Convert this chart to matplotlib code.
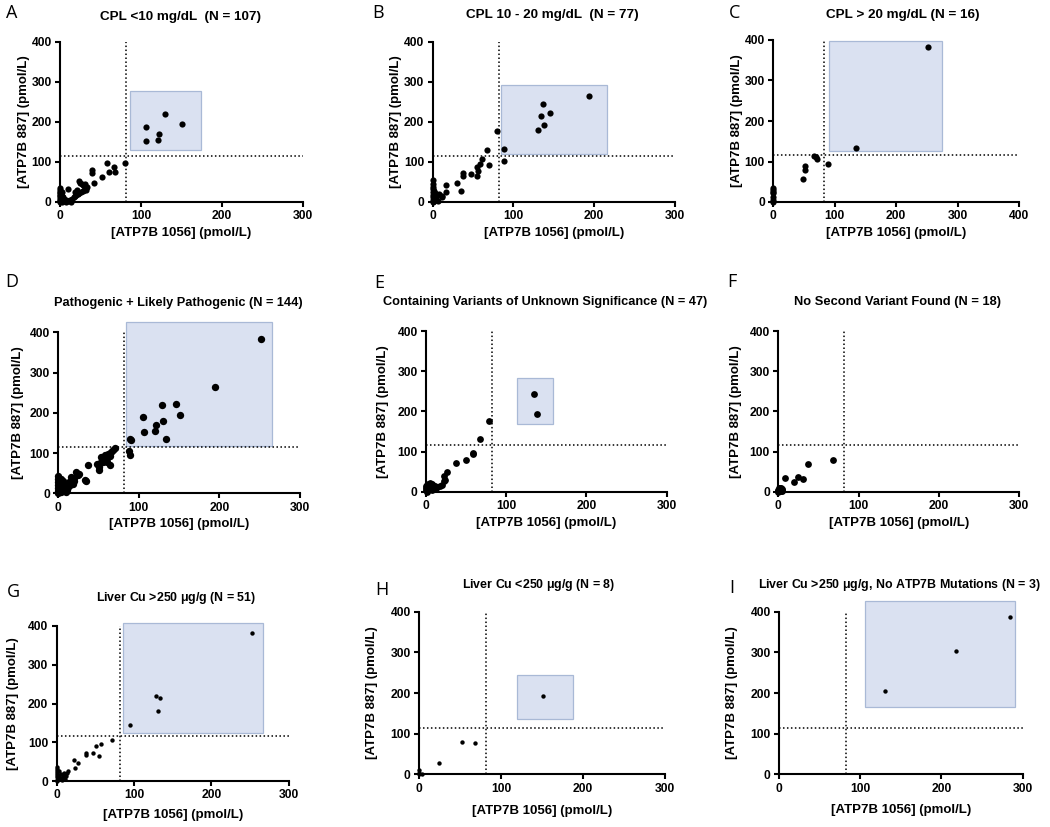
import matplotlib
matplotlib.use("Agg")
import matplotlib.pyplot as plt
from matplotlib.patches import Rectangle

plt.rcParams['font.family'] = ['Liberation Sans', 'DejaVu Sans']

W, H = 1050, 827
DPI = 100

# ---------------- data ----------------
A_x = [106, 106, 122, 121, 130, 151, 80, 58, 61, 67, 68, 39, 39, 42, 52,
       23, 25, 27, 29, 31, 32, 30, 28, 26, 24, 22, 20, 18, 17, 15, 21, 19, 31, 33, 32,
       0, 0, 0, 0, 0, 0, 0, 0, 0, 0, 2, 3, 4, 5, 6, 7, 8, 10, 10, 12, 13, 1, 2, 3]
A_y = [188, 151, 170, 155, 219, 194, 98, 97, 74, 88, 76, 79, 72, 48, 63,
       52, 48, 45, 42, 40, 35, 30, 28, 25, 22, 20, 18, 15, 12, 8, 30, 25, 45, 38, 30,
       35, 30, 26, 22, 18, 14, 10, 6, 3, 0, 1, 5, 12, 8, 3, 0, 4, 2, 32, 6, 1, 20, 15, 25]

B_x = [193, 136, 134, 145, 138, 130, 88, 88, 79, 67, 70, 61, 58, 55, 55, 56, 47, 38, 38,
       35, 30, 17, 16, 12, 11, 8, 5, 4, 3, 2, 6, 0, 0, 0, 0, 0, 0, 0, 0, 0, 3, 2]
B_y = [265, 244, 214, 221, 192, 180, 133, 102, 176, 131, 93, 107, 95, 88, 65, 78, 71, 66, 72,
       28, 48, 42, 25, 13, 16, 20, 18, 10, 5, 2, 3, 55, 45, 38, 32, 25, 18, 12, 6, 1, 22, 28]

C_x = [252, 134, 89, 52, 52, 49, 67, 69, 71, 0, 0, 0, 0, 0, 0, 0]
C_y = [382, 133, 94, 90, 78, 56, 113, 110, 106, 34, 30, 25, 21, 13, 5, 1]

D_x = [252, 194, 105, 106, 121, 120, 129, 130, 134, 146, 151, 89, 90, 88, 89,
       70, 68, 66, 64, 62, 60, 58, 56, 52, 50, 50, 48, 53, 55, 60, 64, 37, 35, 33, 26, 22,
       24, 19, 17, 15, 14, 12, 10, 8, 7, 5, 4, 3, 2, 1, 0, 0, 0, 0, 0, 0, 0, 9, 11, 13,
       16, 18, 20, 6, 3]
D_y = [383, 265, 189, 152, 170, 155, 219, 180, 134, 221, 194, 134, 132, 106, 95,
       113, 108, 103, 92, 98, 87, 95, 79, 75, 66, 58, 72, 91, 84, 77, 71, 70, 30, 34, 48, 54,
       45, 38, 32, 26, 20, 16, 12, 20, 8, 5, 14, 2, 25, 9, 42, 35, 28, 20, 13, 6, 0, 3, 8, 28,
       40, 22, 30, 30, 35]

E_x = [135, 138, 79, 67, 58, 59, 50, 38, 26, 22, 23, 20, 24, 18, 12, 10, 8, 6, 5, 4, 3, 2,
       1, 0, 0, 0, 7, 9, 11, 14, 3, 5, 1]
E_y = [244, 193, 177, 131, 96, 93, 79, 72, 48, 38, 27, 17, 30, 14, 10, 14, 18, 20, 16, 10,
       6, 3, 0, 13, 8, 3, 5, 9, 15, 12, 18, 22, 17]

F_x = [68, 37, 25, 31, 20, 8, 0, 1, 2, 3, 4, 5, 2, 0, 1, 3, 4, 0]
F_y = [79, 68, 37, 31, 23, 35, 0, 3, 6, 9, 5, 2, 10, 5, 8, 1, 7, 2]

G_x = [252, 128, 134, 131, 95, 71, 57, 51, 55, 47, 38, 38, 27, 22, 24, 15, 9, 10, 8, 6, 5,
       4, 3, 2, 1, 0, 0, 0, 0, 0, 0, 0, 12, 11, 7, 13, 3, 2]
G_y = [381, 219, 213, 180, 145, 105, 96, 90, 65, 71, 67, 72, 46, 53, 33, 27, 20, 15, 10, 8,
       18, 4, 12, 6, 2, 0, 35, 30, 25, 20, 15, 10, 12, 5, 2, 20, 25, 15]

H_x = [151, 52, 68, 24, 0, 0, 4, 0]
H_y = [193, 79, 77, 27, 10, 4, 1, 0]

I_x = [130, 218, 284]
I_y = [206, 303, 388]

# thresholds and highlighted boxes (x0, x1, y0, y1) in data units
X_CUT, Y_CUT = 82, 115
BOXES = {
    'A': (86, 174, 129, 277),
    'B': (84, 216, 119, 291),
    'C': (91, 274, 127, 397),
    'D': (84, 265, 117, 425),
    'E': (114, 158, 168, 284),
    'F': None,
    'G': (86, 267, 123, 408),
    'H': (120, 188, 136, 244),
    'I': (106, 291, 166, 426),
}

TITLES = {
    'A': 'CPL <10 mg/dL  (N = 107)',
    'B': 'CPL 10 - 20 mg/dL  (N = 77)',
    'C': 'CPL > 20 mg/dL (N = 16)',
    'D': 'Pathogenic + Likely Pathogenic (N = 144)',
    'E': 'Containing Variants of Unknown Significance (N = 47)',
    'F': 'No Second Variant Found (N = 18)',
    'G': 'Liver Cu >250 $\\mathregular{\\mu}$g/g (N = 51)',
    'H': 'Liver Cu <250 $\\mathregular{\\mu}$g/g (N = 8)',
    'I': 'Liver Cu >250 $\\mathregular{\\mu}$g/g, No ATP7B Mutations (N = 3)',
}

DATA = {'A': (A_x, A_y), 'B': (B_x, B_y), 'C': (C_x, C_y), 'D': (D_x, D_y),
        'E': (E_x, E_y), 'F': (F_x, F_y), 'G': (G_x, G_y), 'H': (H_x, H_y),
        'I': (I_x, I_y)}

XTICKS = {'C': [0, 100, 200, 300, 400]}
XMAX = {'C': 400}

# layout in pixels: (x_left, x_right, y_top, y_bottom)
LAYOUT = {
    'A': (60, 303, 41.7, 202),
    'B': (432.7, 675, 41.7, 202),
    'C': (773.3, 1019, 40, 202),
    'D': (58.3, 300, 332.3, 493.3),
    'E': (426, 666.7, 331, 491.7),
    'F': (778.3, 1019.3, 331, 491.7),
    'G': (56.7, 288.7, 626, 781),
    'H': (419, 664.7, 611.7, 774.3),
    'I': (779, 1022.7, 611.7, 774.3),
}
TITLE_POS = {'A': (181, 17), 'B': (552, 15), 'C': (903, 15), 'D': (178, 303),
             'E': (545, 302), 'F': (898, 302), 'G': (176, 598), 'H': (539, 585),
             'I': (899, 585)}
TITLE_SIZE = {'A': 9.7, 'B': 9.7, 'C': 9.7, 'D': 9.2, 'E': 9.2, 'F': 9.25,
              'G': 8.9, 'H': 8.9, 'I': 8.9}
LETTER_POS = {'A': (12, 13), 'B': (378, 13), 'C': (735, 13), 'D': (12, 282),
              'E': (379, 283), 'F': (732, 282), 'G': (13, 592), 'H': (382, 590),
              'I': (732, 588)}
YLABEL_X = {'A': 24, 'B': 396, 'C': 737, 'D': 18, 'E': 383, 'F': 736, 'G': 13,
            'H': 372, 'I': 732}
XLABEL_DY = {'A': 31, 'B': 31, 'C': 31, 'D': 31, 'E': 31, 'F': 31, 'G': 34,
             'H': 37, 'I': 36}
MSIZE = {'A': 20, 'B': 20, 'C': 20, 'D': 28, 'E': 24, 'F': 24, 'G': 10, 'H': 10, 'I': 10}

fig = plt.figure(figsize=(W / DPI, H / DPI), dpi=DPI)

for key in 'ABCDEFGHI':
    xl, xr, yt, yb = LAYOUT[key]
    ax = fig.add_axes([xl / W, 1 - yb / H, (xr - xl) / W, (yb - yt) / H])
    xmax = XMAX.get(key, 300)
    ax.set_xlim(0, xmax)
    ax.set_ylim(0, 400)
    ax.set_xticks(XTICKS.get(key, [0, 100, 200, 300]))
    ax.set_yticks([0, 100, 200, 300, 400])
    for s in ('top', 'right'):
        ax.spines[s].set_visible(False)
    for s in ('left', 'bottom'):
        ax.spines[s].set_linewidth(1.5)
    ax.tick_params(direction='out', length=3.5, width=1.5, pad=2.5, labelsize=8.7)
    for lab in ax.get_xticklabels() + ax.get_yticklabels():
        lab.set_fontweight('bold')
    box = BOXES[key]
    if box is not None:
        x0, x1, y0, y1 = box
        ax.add_patch(Rectangle((x0, y0), x1 - x0, y1 - y0, facecolor='#dae1f1',
                               edgecolor='#a9b9d6', linewidth=0.9, clip_on=False, zorder=1))
    ax.axvline(X_CUT, color='black', linestyle=(0, (1, 1.6)), linewidth=1.1, zorder=2)
    ax.axhline(Y_CUT, color='black', linestyle=(0, (1, 1.6)), linewidth=1.1, zorder=2)
    xs, ys = DATA[key]
    ax.scatter(xs, ys, s=MSIZE[key], color='black', linewidths=0, clip_on=False, zorder=4)
    ax.set_xlabel('[ATP7B 1056] (pmol/L)', fontsize=9.5, fontweight='bold')
    ax.set_ylabel('[ATP7B 887] (pmol/L)', fontsize=9.5, fontweight='bold')
    ax.xaxis.set_label_coords(0.5, -XLABEL_DY[key] / (yb - yt))
    ax.yaxis.set_label_coords((YLABEL_X[key] - xl) / (xr - xl), 0.5)
    ax.xaxis.label.set_verticalalignment('center')
    ax.yaxis.label.set_verticalalignment('center')
    tx, ty = TITLE_POS[key]
    fig.text(tx / W, 1 - ty / H, TITLES[key], ha='center', va='center',
             fontsize=TITLE_SIZE[key], fontweight='bold')
    lx, ly = LETTER_POS[key]
    fig.text(lx / W, 1 - ly / H, key, ha='center', va='center', fontsize=13,
             family=['Open Sans', 'DejaVu Sans'])

fig.savefig('out.png', dpi=DPI)
